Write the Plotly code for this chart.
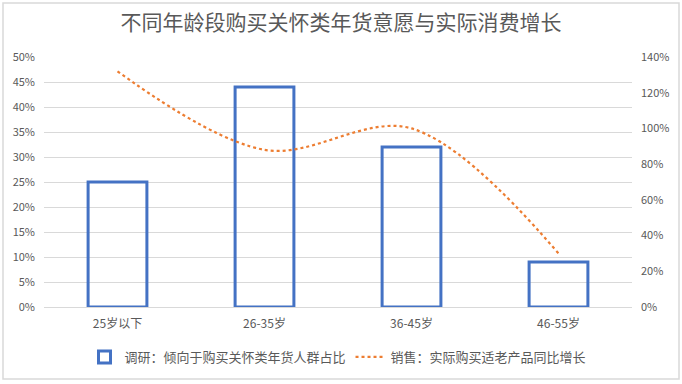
import plotly.graph_objects as go

categories = ["25岁以下", "26-35岁", "36-45岁", "46-55岁"]
survey_share = [25, 44, 32, 9]          # 调研：倾向于购买关怀类年货人群占比 (%)
sales_growth = [132, 88, 100, 30]       # 销售：实际购买适老产品同比增长 (%)
left_ticks = list(range(0, 55, 5))
right_ticks = list(range(0, 160, 20))

FONT = "Noto Sans CJK SC"
GRAY = "#595959"

fig = go.Figure()
fig.add_trace(go.Bar(
    x=categories, y=survey_share, name="调研：倾向于购买关怀类年货人群占比",
    marker=dict(color="rgba(255,255,255,0)", line=dict(color="#4472C4", width=3)),
    yaxis="y",
))
fig.add_trace(go.Scatter(
    x=categories, y=sales_growth, name="销售：实际购买适老产品同比增长",
    mode="lines", line=dict(color="#ED7D31", width=2.2, dash="dot", shape="spline", smoothing=1.0),
    yaxis="y2",
))

fig.update_layout(
    width=682, height=384,
    margin=dict(l=44, r=50, t=57, b=77),
    paper_bgcolor="white", plot_bgcolor="white",
    font=dict(family=FONT, color=GRAY, size=11),
    title=dict(text="不同年龄段购买关怀类年货意愿与实际消费增长", x=0.5, xanchor="center",
               y=0.94, yanchor="middle", font=dict(size=21, color=GRAY, family=FONT)),
    bargap=0.6,
    showlegend=True,
    legend=dict(orientation="h", x=0.5, xanchor="center", y=-0.14, yanchor="top",
                font=dict(size=13, color=GRAY, family=FONT), bgcolor="rgba(0,0,0,0)",
                itemwidth=30),
    xaxis=dict(showgrid=False, showline=False, ticks="", tickfont=dict(size=12, color=GRAY),
               ticklabelstandoff=8),
    yaxis=dict(range=[0, 50], tickvals=left_ticks, ticktext=[f"{v}%" for v in left_ticks],
               showgrid=True, gridcolor="#d9d9d9", gridwidth=1, zeroline=True,
               zerolinecolor="#d9d9d9", zerolinewidth=1, showline=False,
               tickfont=dict(size=11, color=GRAY), ticklabelstandoff=8),
    yaxis2=dict(range=[0, 140], tickvals=right_ticks, ticktext=[f"{v}%" for v in right_ticks],
                overlaying="y", side="right", showgrid=False, zeroline=False, showline=False,
                tickfont=dict(size=11, color=GRAY), ticklabelstandoff=8),
    shapes=[dict(type="rect", xref="paper", yref="paper",
                 x0=(3 - 44) / 588, x1=(679 - 44) / 588,
                 y0=(307 - 379) / 250, y1=(307 - 3) / 250,
                 line=dict(color="#d9d9d9", width=1.5), fillcolor="rgba(0,0,0,0)", layer="below")],
)

fig.write_html("out.html", config={"displayModeBar": False},
               post_script="document.body.style.margin='0';document.body.style.padding='0';")
